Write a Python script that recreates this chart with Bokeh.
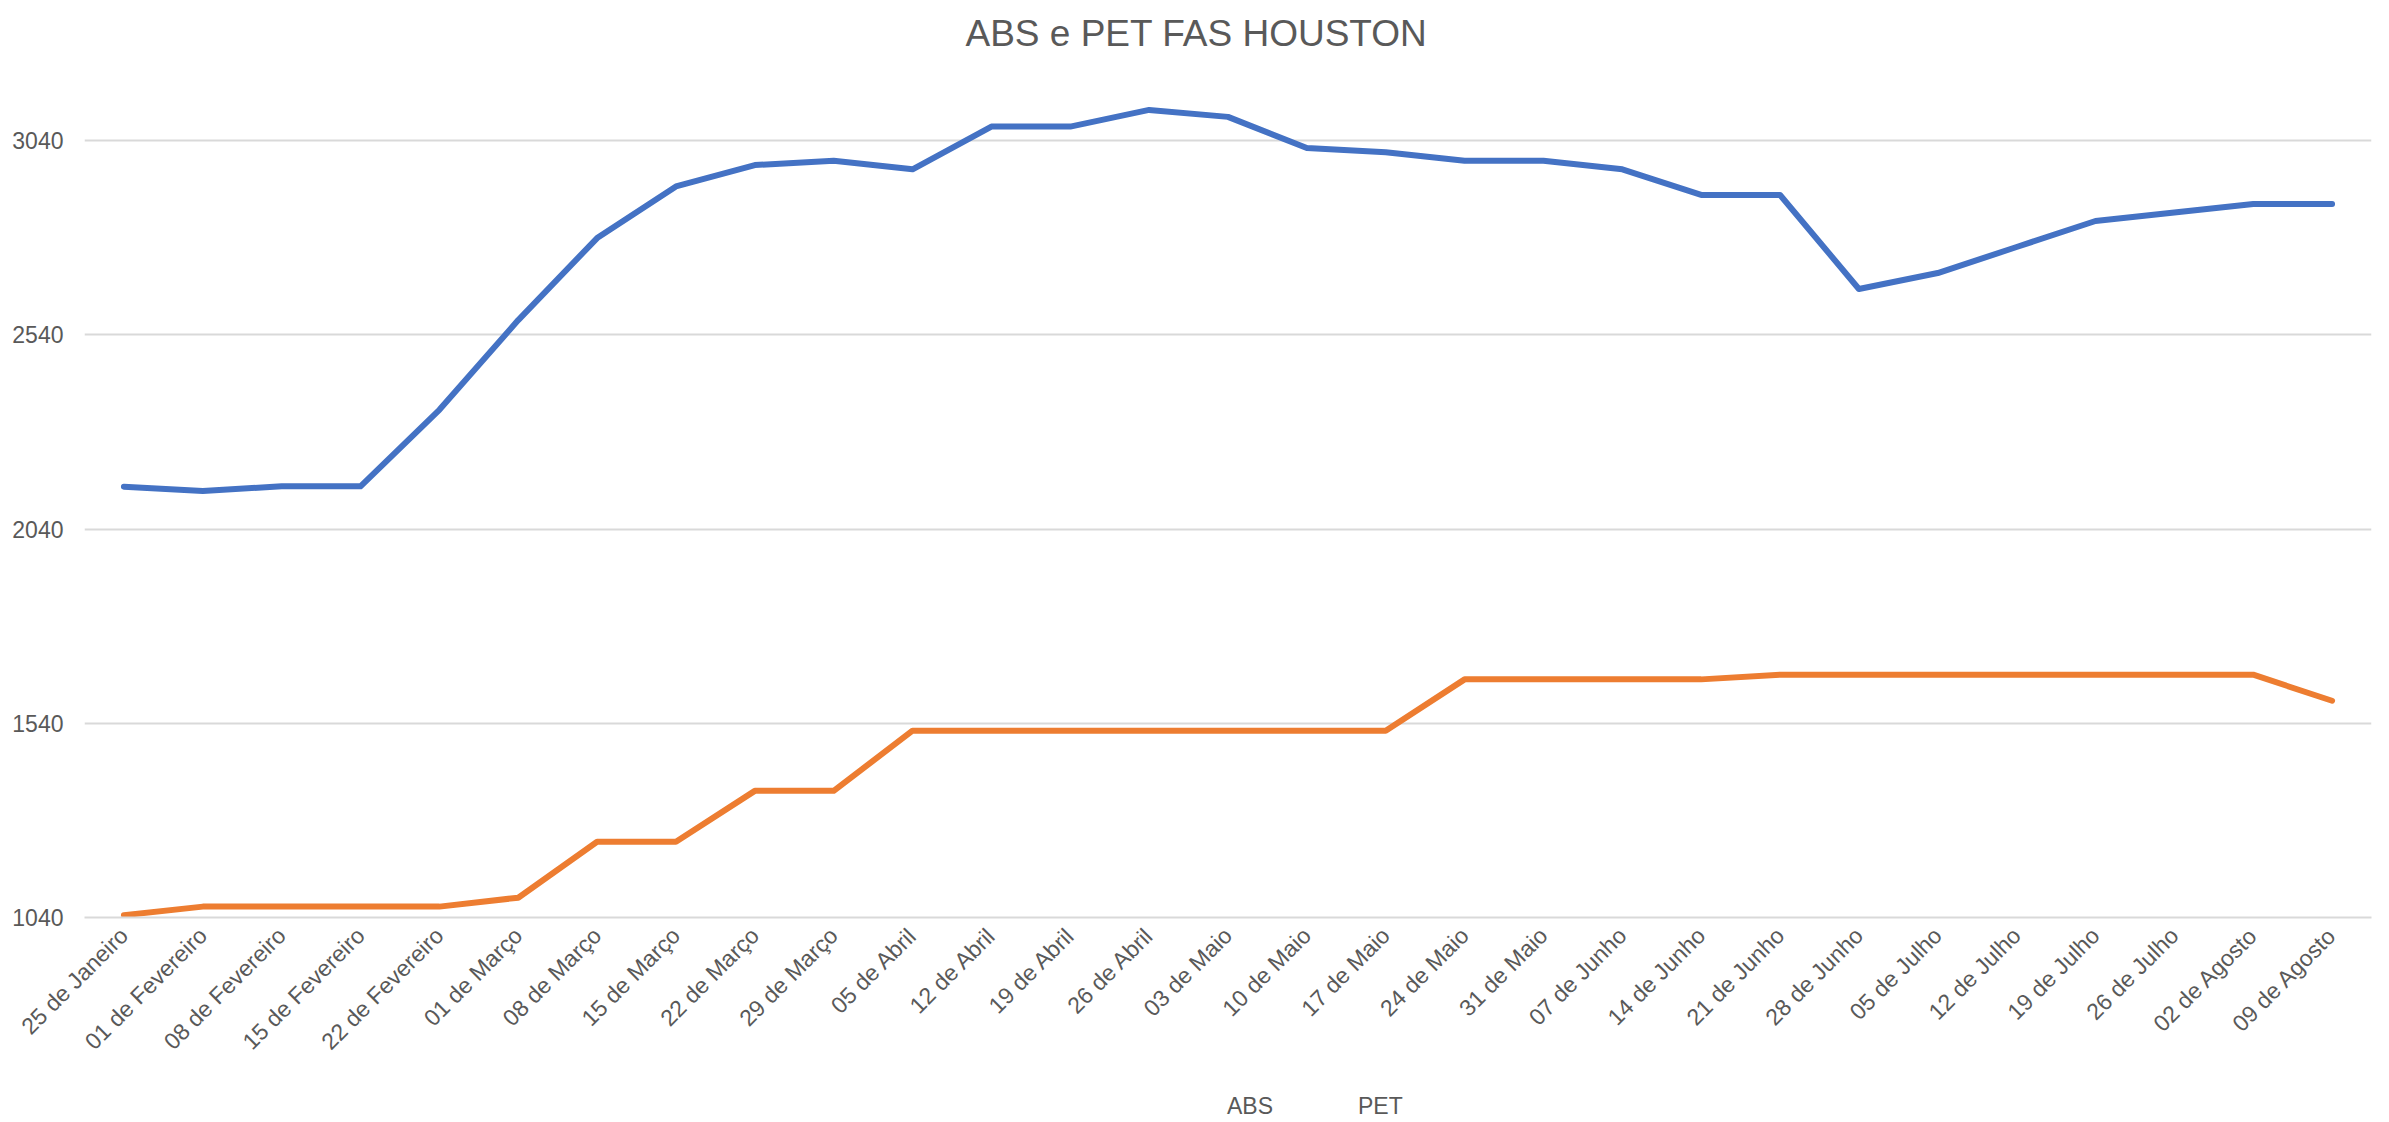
import math
from bokeh.plotting import figure
from bokeh.layouts import column
from bokeh.models import Range1d, FactorRange, FixedTicker, Legend, LegendItem
from bokeh.embed import file_html
from bokeh.resources import INLINE

# ---- data ----
title_text = "ABS e PET FAS HOUSTON"

dates = ["25 de Janeiro", "01 de Fevereiro", "08 de Fevereiro", "15 de Fevereiro",
         "22 de Fevereiro", "01 de Março", "08 de Março", "15 de Março", "22 de Março",
         "29 de Março", "05 de Abril", "12 de Abril", "19 de Abril", "26 de Abril",
         "03 de Maio", "10 de Maio", "17 de Maio", "24 de Maio", "31 de Maio",
         "07 de Junho", "14 de Junho", "21 de Junho", "28 de Junho", "05 de Julho",
         "12 de Julho", "19 de Julho", "26 de Julho", "02 de Agosto", "09 de Agosto"]

abs_values = [2149, 2138, 2150, 2150, 2347, 2578, 2789, 2922, 2977, 2988,
              2966, 3076, 3076, 3119, 3101, 3021, 3010, 2988, 2988, 2966,
              2900, 2900, 2658, 2699, 2766, 2833, 2855, 2877, 2877]

pet_values = [1046, 1068, 1068, 1068, 1068, 1091, 1235, 1235, 1366, 1366,
              1521, 1521, 1521, 1521, 1521, 1521, 1521, 1653, 1653, 1653,
              1653, 1665, 1665, 1665, 1665, 1665, 1665, 1665, 1598]

y_ticks = [1040, 1540, 2040, 2540, 3040]

TEXT = "#595959"
FONT = "Liberation Sans"
ABS_COLOR = "#4472C4"
PET_COLOR = "#ED7D31"

p = figure(frame_width=2287, frame_height=855,
           x_range=FactorRange(*dates, range_padding=0),
           y_range=Range1d(1040, 3241),
           output_backend="svg", toolbar_location=None,
           min_border_left=84, min_border_right=10,
           min_border_top=62, min_border_bottom=170,
           title=title_text)
p.outline_line_color = None

p.title.text_font = FONT
p.title.text_font_size = "37px"
p.title.text_font_style = "normal"
p.title.text_color = TEXT
p.title.align = "left"
p.title.offset = 881
p.title.standoff = 18

p.line(dates, abs_values, line_color=ABS_COLOR, line_width=6,
       line_cap="round", line_join="round")
p.line(dates, pet_values, line_color=PET_COLOR, line_width=6,
       line_cap="round", line_join="round")

# y axis
p.yaxis.ticker = FixedTicker(ticks=y_ticks)
p.yaxis.axis_line_color = None
p.yaxis.major_tick_line_color = None
p.yaxis.minor_tick_line_color = None
p.yaxis.major_tick_out = 0
p.yaxis.major_label_standoff = 21
p.yaxis.major_label_text_font = FONT
p.yaxis.major_label_text_font_size = "23px"
p.yaxis.major_label_text_color = TEXT

# x axis
p.xaxis.axis_line_color = "#D9D9D9"
p.xaxis.axis_line_width = 2
p.xaxis.major_tick_line_color = None
p.xaxis.major_tick_out = 0
p.xaxis.major_label_standoff = 14
p.xaxis.major_label_orientation = math.pi / 4
p.xaxis.major_label_text_font = FONT
p.xaxis.major_label_text_font_size = "23px"
p.xaxis.major_label_text_color = TEXT

p.xgrid.grid_line_color = None
p.ygrid.grid_line_color = "#D9D9D9"
p.ygrid.grid_line_width = 2

# ---- legend strip below the chart ----
lg = figure(width=2381, height=40, x_range=Range1d(0, 1), y_range=Range1d(0, 1),
            output_backend="svg", toolbar_location=None,
            x_axis_location=None, y_axis_location=None, min_border=0)
lg.outline_line_color = None
lg.grid.visible = False
k_abs = lg.line([], [], line_color=ABS_COLOR, line_width=6, line_cap="round")
k_pet = lg.line([], [], line_color=PET_COLOR, line_width=6, line_cap="round")

legend = Legend(items=[LegendItem(label="ABS", renderers=[k_abs]),
                       LegendItem(label="PET", renderers=[k_pet])],
                orientation="horizontal", location=(1085, 7))
legend.border_line_color = None
legend.background_fill_alpha = 0
legend.label_text_font = FONT
legend.label_text_font_size = "23px"
legend.label_text_color = TEXT
legend.glyph_width = 55
legend.glyph_height = 23
legend.label_standoff = 3
legend.spacing = 27
legend.padding = 0
legend.margin = 0
lg.add_layout(legend, "center")

layout = column(p, lg, spacing=0)

open("out.html", "w").write(file_html(layout, INLINE))
